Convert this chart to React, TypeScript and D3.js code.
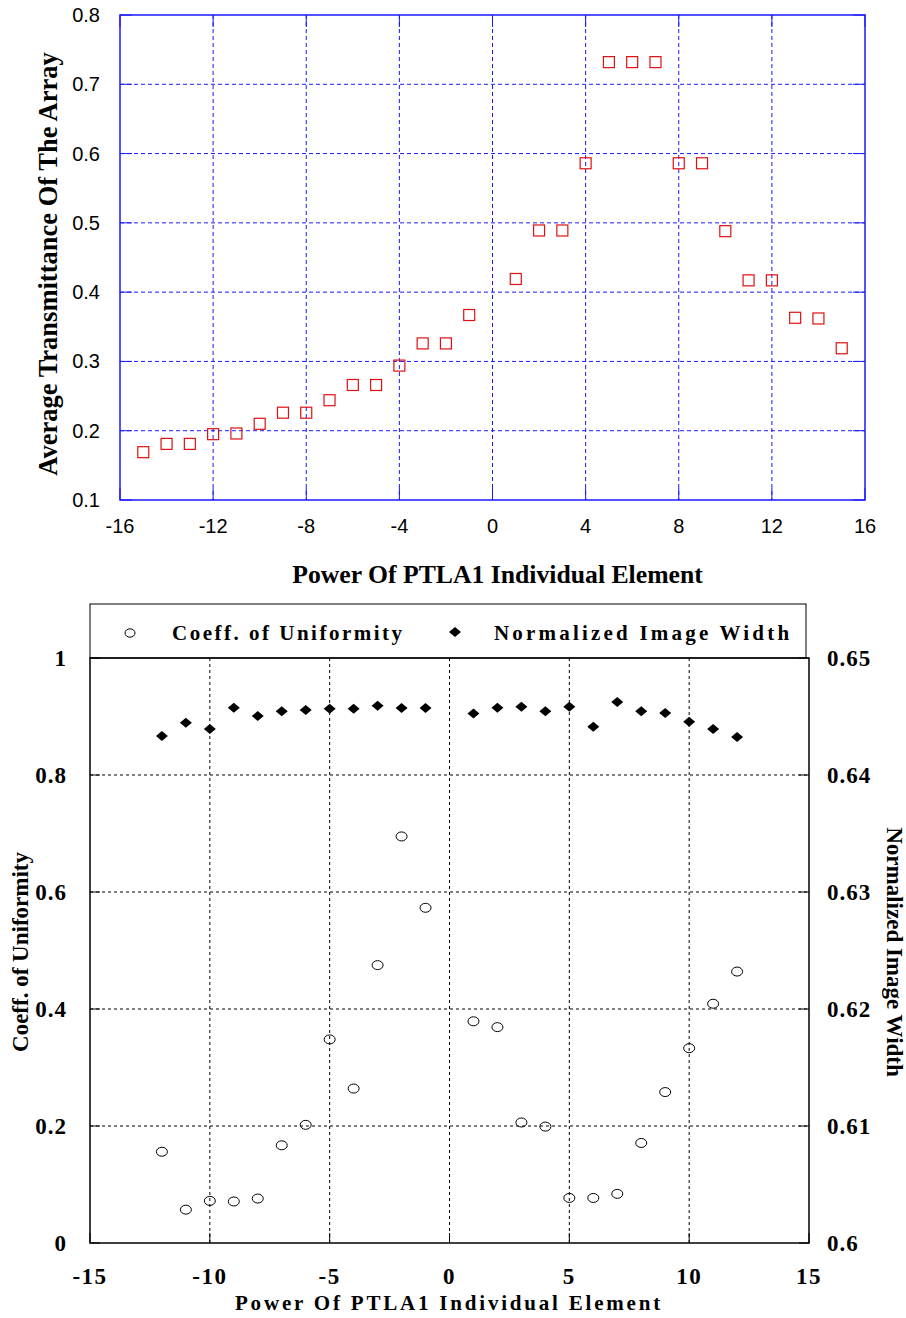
import React from "react";
import * as d3 from "d3";

// top chart: average transmittance vs element power
const topPower = [-15, -14, -13, -12, -11, -10, -9, -8, -7, -6, -5, -4, -3, -2, -1, 1, 2, 3, 4, 5, 6, 7, 8, 9, 10, 11, 12, 13, 14, 15];
const transmittance = [
  0.169, 0.181, 0.181, 0.195, 0.196, 0.21, 0.226, 0.226, 0.244, 0.266, 0.266, 0.294, 0.326, 0.326, 0.367,
  0.419, 0.489, 0.489, 0.586, 0.732, 0.732, 0.732, 0.586, 0.586, 0.488, 0.417, 0.417, 0.363, 0.362, 0.319,
];
const topXTicks = [-16, -12, -8, -4, 0, 4, 8, 12, 16];
const topYTicks = [0.1, 0.2, 0.3, 0.4, 0.5, 0.6, 0.7, 0.8];

// bottom chart: uniformity (left axis) and image width (right axis)
const bottomPower = [-12, -11, -10, -9, -8, -7, -6, -5, -4, -3, -2, -1, 1, 2, 3, 4, 5, 6, 7, 8, 9, 10, 11, 12];
const uniformity = [
  0.156, 0.057, 0.072, 0.071, 0.076, 0.167, 0.202, 0.348, 0.264, 0.475, 0.695, 0.573,
  0.379, 0.369, 0.206, 0.199, 0.077, 0.077, 0.084, 0.171, 0.258, 0.333, 0.409, 0.464,
];
const imageWidth = [
  0.64333, 0.64447, 0.64393, 0.64575, 0.64504, 0.64544, 0.64556, 0.64567, 0.64567, 0.64592, 0.64573, 0.64573,
  0.64526, 0.64575, 0.64584, 0.64544, 0.64584, 0.64413, 0.64624, 0.64544, 0.6453, 0.64456, 0.64393, 0.64325,
];
const bottomXTicks = [-15, -10, -5, 0, 5, 10, 15];
const leftTicks = [0, 0.2, 0.4, 0.6, 0.8, 1];
const leftLabels = ["0", "0.2", "0.4", "0.6", "0.8", "1"];
const rightTicks = [0.6, 0.61, 0.62, 0.63, 0.64, 0.65];
const rightLabels = ["0.6", "0.61", "0.62", "0.63", "0.64", "0.65"];

const serif = "'Liberation Serif', 'Times New Roman', serif";
const sans = "'Liberation Sans', Arial, sans-serif";
const blue = "#1a1aff";

const diamondPath = (w: number, h: number) => {
  const p = d3.path();
  p.moveTo(0, -h / 2);
  p.lineTo(w / 2, 0);
  p.lineTo(0, h / 2);
  p.lineTo(-w / 2, 0);
  p.closePath();
  return p.toString();
};

const TopChart = () => {
  const left = 120, right = 865, top = 15, bottom = 500;
  const x = d3.scaleLinear().domain([-16, 16]).range([left, right]);
  const y = d3.scaleLinear().domain([0.1, 0.8]).range([bottom, top]);
  const sq = 11;

  return (
    <g>
      {/* grid */}
      {topXTicks.slice(1, -1).map((t) => (
        <line key={"gx" + t} x1={x(t)} x2={x(t)} y1={top} y2={bottom} stroke={blue} strokeWidth={1} strokeDasharray="4 3" />
      ))}
      {topYTicks.slice(1, -1).map((t) => (
        <line key={"gy" + t} x1={left} x2={right} y1={y(t)} y2={y(t)} stroke={blue} strokeWidth={1} strokeDasharray="4 3" />
      ))}
      {/* inward ticks */}
      {topYTicks.map((t) => (
        <g key={"ty" + t}>
          <line x1={left} x2={left + 12} y1={y(t)} y2={y(t)} stroke={blue} strokeWidth={1} />
          <line x1={right - 12} x2={right} y1={y(t)} y2={y(t)} stroke={blue} strokeWidth={1} />
        </g>
      ))}
      {topXTicks.map((t) => (
        <g key={"tx" + t}>
          <line x1={x(t)} x2={x(t)} y1={bottom} y2={bottom - 12} stroke={blue} strokeWidth={1} />
          <line x1={x(t)} x2={x(t)} y1={top} y2={top + 12} stroke={blue} strokeWidth={1} />
        </g>
      ))}
      <rect x={left} y={top} width={right - left} height={bottom - top} fill="none" stroke={blue} strokeWidth={1.5} />

      {/* tick labels */}
      {topYTicks.map((t) => (
        <text key={"ly" + t} x={left - 20} y={y(t) + 7} textAnchor="end" fontFamily={sans} fontSize={20}>
          {t.toFixed(1)}
        </text>
      ))}
      {topXTicks.map((t) => (
        <text key={"lx" + t} x={x(t)} y={533} textAnchor="middle" fontFamily={sans} fontSize={20}>
          {t}
        </text>
      ))}

      {/* titles */}
      <text x={(left + right) / 2 + 5} y={583} textAnchor="middle" fontFamily={serif} fontWeight="bold" fontSize={25.7}>
        Power Of PTLA1 Individual Element
      </text>
      <text
        transform={`translate(57,264) rotate(-90)`}
        textAnchor="middle"
        fontFamily={serif}
        fontWeight="bold"
        fontSize={26.5}
      >
        Average Transmittance Of The Array
      </text>

      {/* data */}
      {transmittance.map((v, i) => (
        <rect
          key={"p" + i}
          x={x(topPower[i]) - sq / 2}
          y={y(v) - sq / 2}
          width={sq}
          height={sq}
          fill="none"
          stroke="#e01010"
          strokeWidth={1.2}
        />
      ))}
    </g>
  );
};

const BottomChart = () => {
  const left = 90, right = 809, top = 658, bottom = 1243;
  const x = d3.scaleLinear().domain([-15, 15]).range([left, right]);
  const yL = d3.scaleLinear().domain([0, 1]).range([bottom, top]);
  const yR = d3.scaleLinear().domain([0.6, 0.65]).range([bottom, top]);
  const diamond = diamondPath(12, 10);

  return (
    <g>
      {/* grid */}
      {bottomXTicks.slice(1, -1).map((t) => (
        <line key={"gx" + t} x1={x(t)} x2={x(t)} y1={top} y2={bottom} stroke="#000" strokeWidth={1} strokeDasharray="3 3" />
      ))}
      {leftTicks.slice(1, -1).map((t) => (
        <line key={"gy" + t} x1={left} x2={right} y1={yL(t)} y2={yL(t)} stroke="#000" strokeWidth={1} strokeDasharray="3 3" />
      ))}
      {leftTicks.map((t) => (
        <g key={"ty" + t}>
          <line x1={left} x2={left + 10} y1={yL(t)} y2={yL(t)} stroke="#000" strokeWidth={1} />
          <line x1={right - 10} x2={right} y1={yL(t)} y2={yL(t)} stroke="#000" strokeWidth={1} />
        </g>
      ))}
      {bottomXTicks.map((t) => (
        <line key={"tx" + t} x1={x(t)} x2={x(t)} y1={bottom} y2={bottom - 10} stroke="#000" strokeWidth={1} />
      ))}
      <rect x={left} y={top} width={right - left} height={bottom - top} fill="none" stroke="#000" strokeWidth={1.5} />

      {/* legend */}
      <rect x={left} y={604} width={right - left - 3} height={top - 604} fill="none" stroke="#000" strokeWidth={1} />
      <ellipse cx={130} cy={633} rx={5} ry={4.2} fill="none" stroke="#000" strokeWidth={1} />
      <text x={172} y={640} fontFamily={serif} fontWeight="bold" fontSize={21} letterSpacing={2.5}>
        Coeff. of Uniformity
      </text>
      <path d={diamond} transform="translate(455,632)" fill="#000" />
      <text x={494} y={640} fontFamily={serif} fontWeight="bold" fontSize={21} letterSpacing={3.2}>
        Normalized Image Width
      </text>

      {/* tick labels */}
      {leftTicks.map((t, i) => (
        <text key={"ll" + t} x={67} y={yL(t) + 8} textAnchor="end" fontFamily={serif} fontWeight="bold" fontSize={23} letterSpacing={1}>
          {leftLabels[i]}
        </text>
      ))}
      {rightTicks.map((t, i) => (
        <text key={"lr" + t} x={827} y={yR(t) + 8} textAnchor="start" fontFamily={serif} fontWeight="bold" fontSize={23} letterSpacing={1}>
          {rightLabels[i]}
        </text>
      ))}
      {bottomXTicks.map((t) => (
        <text key={"lx" + t} x={x(t)} y={1284} textAnchor="middle" fontFamily={serif} fontWeight="bold" fontSize={23} letterSpacing={1.5}>
          {t}
        </text>
      ))}

      {/* titles */}
      <text x={449} y={1310} textAnchor="middle" fontFamily={serif} fontWeight="bold" fontSize={21} letterSpacing={2.8}>
        Power Of PTLA1 Individual Element
      </text>
      <text
        transform={`translate(28,952) rotate(-90)`}
        textAnchor="middle"
        fontFamily={serif}
        fontWeight="bold"
        fontSize={23}
      >
        Coeff. of Uniformity
      </text>
      <text
        transform={`translate(887,952) rotate(90)`}
        textAnchor="middle"
        fontFamily={serif}
        fontWeight="bold"
        fontSize={23}
      >
        Normalized Image Width
      </text>

      {/* data */}
      {uniformity.map((v, i) => (
        <ellipse key={"c" + i} cx={x(bottomPower[i])} cy={yL(v)} rx={5.5} ry={4.5} fill="none" stroke="#000" strokeWidth={1} />
      ))}
      {imageWidth.map((v, i) => (
        <path key={"d" + i} d={diamond} transform={`translate(${x(bottomPower[i])},${yR(v)})`} fill="#000" />
      ))}
    </g>
  );
};

const App = () => {
  return (
    <svg
      width={906}
      height={1318}
      style={{ position: "absolute", left: 0, top: 0, background: "#fff" }}
    >
      <TopChart />
      <BottomChart />
    </svg>
  );
};

export default App;
